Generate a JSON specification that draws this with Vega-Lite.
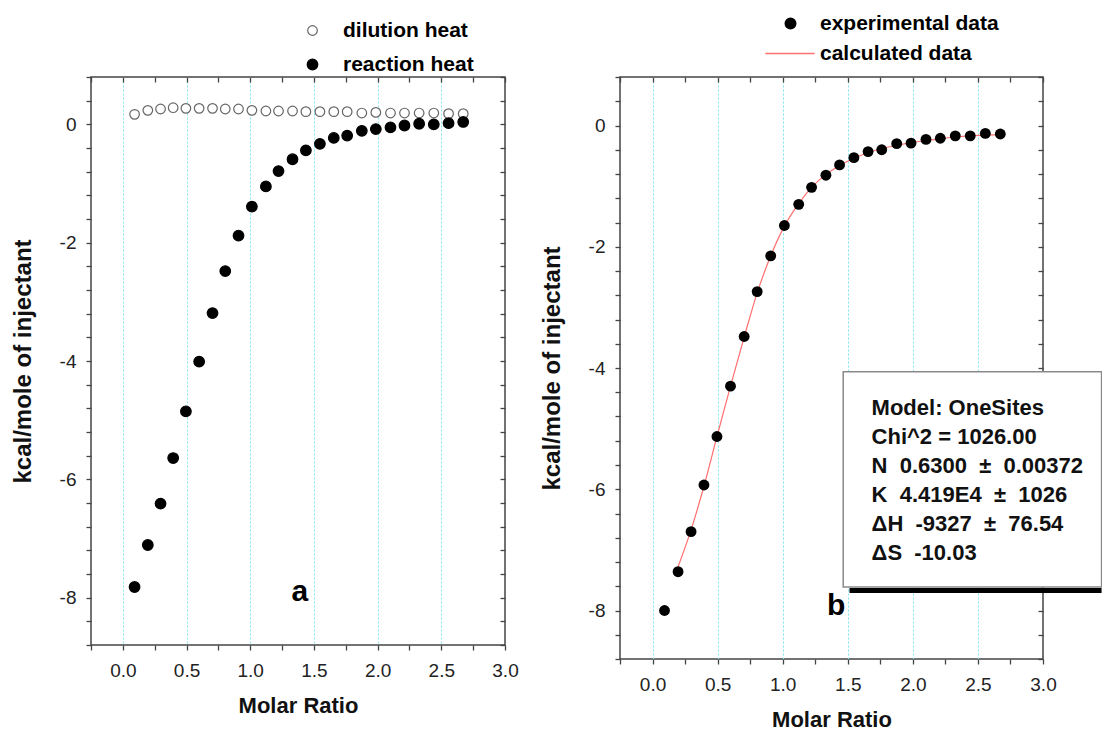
{
  "$schema": "https://vega.github.io/schema/vega-lite/v6.json",
  "background": "white",
  "padding": {"left": 10, "top": 13, "right": 0, "bottom": 0},
  "bounds": "flush",
  "spacing": 115,
  "config": {
    "font": "Liberation Sans",
    "view": {"stroke": "#444", "strokeWidth": 1.5},
    "axis": {"domain": false, "labelFont": "Liberation Sans", "labelFontSize": 19, "labelColor": "#222", "tickColor": "#444", "tickWidth": 1.3, "titleFont": "Liberation Sans", "titleFontWeight": "bold", "titleColor": "#111", "labelFlush": false, "labelOverlap": false, "labelBound": false},
    "legend": {"labelFont": "Liberation Sans", "labelLimit": 400}
  },
  "datasets": {
    "left": [
      {"x": 0.092, "y": 0.169, "series": "dilution heat"},
      {"x": 0.196, "y": 0.236, "series": "dilution heat"},
      {"x": 0.296, "y": 0.259, "series": "dilution heat"},
      {"x": 0.395, "y": 0.281, "series": "dilution heat"},
      {"x": 0.495, "y": 0.270, "series": "dilution heat"},
      {"x": 0.599, "y": 0.270, "series": "dilution heat"},
      {"x": 0.704, "y": 0.270, "series": "dilution heat"},
      {"x": 0.804, "y": 0.259, "series": "dilution heat"},
      {"x": 0.908, "y": 0.259, "series": "dilution heat"},
      {"x": 1.013, "y": 0.236, "series": "dilution heat"},
      {"x": 1.123, "y": 0.225, "series": "dilution heat"},
      {"x": 1.222, "y": 0.225, "series": "dilution heat"},
      {"x": 1.332, "y": 0.225, "series": "dilution heat"},
      {"x": 1.437, "y": 0.214, "series": "dilution heat"},
      {"x": 1.547, "y": 0.214, "series": "dilution heat"},
      {"x": 1.656, "y": 0.214, "series": "dilution heat"},
      {"x": 1.761, "y": 0.214, "series": "dilution heat"},
      {"x": 1.876, "y": 0.191, "series": "dilution heat"},
      {"x": 1.986, "y": 0.202, "series": "dilution heat"},
      {"x": 2.101, "y": 0.191, "series": "dilution heat"},
      {"x": 2.211, "y": 0.191, "series": "dilution heat"},
      {"x": 2.326, "y": 0.191, "series": "dilution heat"},
      {"x": 2.441, "y": 0.191, "series": "dilution heat"},
      {"x": 2.557, "y": 0.180, "series": "dilution heat"},
      {"x": 2.672, "y": 0.180, "series": "dilution heat"},
      {"x": 0.092, "y": -7.82, "series": "reaction heat"},
      {"x": 0.196, "y": -7.11, "series": "reaction heat"},
      {"x": 0.296, "y": -6.41, "series": "reaction heat"},
      {"x": 0.395, "y": -5.64, "series": "reaction heat"},
      {"x": 0.495, "y": -4.85, "series": "reaction heat"},
      {"x": 0.599, "y": -4.01, "series": "reaction heat"},
      {"x": 0.704, "y": -3.19, "series": "reaction heat"},
      {"x": 0.804, "y": -2.48, "series": "reaction heat"},
      {"x": 0.908, "y": -1.88, "series": "reaction heat"},
      {"x": 1.013, "y": -1.39, "series": "reaction heat"},
      {"x": 1.123, "y": -1.05, "series": "reaction heat"},
      {"x": 1.222, "y": -0.79, "series": "reaction heat"},
      {"x": 1.332, "y": -0.59, "series": "reaction heat"},
      {"x": 1.437, "y": -0.44, "series": "reaction heat"},
      {"x": 1.547, "y": -0.33, "series": "reaction heat"},
      {"x": 1.656, "y": -0.23, "series": "reaction heat"},
      {"x": 1.761, "y": -0.19, "series": "reaction heat"},
      {"x": 1.876, "y": -0.11, "series": "reaction heat"},
      {"x": 1.986, "y": -0.08, "series": "reaction heat"},
      {"x": 2.101, "y": -0.05, "series": "reaction heat"},
      {"x": 2.211, "y": -0.02, "series": "reaction heat"},
      {"x": 2.326, "y": 0.01, "series": "reaction heat"},
      {"x": 2.441, "y": 0.0, "series": "reaction heat"},
      {"x": 2.557, "y": 0.02, "series": "reaction heat"},
      {"x": 2.672, "y": 0.04, "series": "reaction heat"}
    ],
    "exp": [
      {"x": 0.092, "y": -8.00, "series": "experimental data"},
      {"x": 0.196, "y": -7.36, "series": "experimental data"},
      {"x": 0.296, "y": -6.70, "series": "experimental data"},
      {"x": 0.395, "y": -5.93, "series": "experimental data"},
      {"x": 0.495, "y": -5.13, "series": "experimental data"},
      {"x": 0.599, "y": -4.30, "series": "experimental data"},
      {"x": 0.704, "y": -3.48, "series": "experimental data"},
      {"x": 0.804, "y": -2.74, "series": "experimental data"},
      {"x": 0.908, "y": -2.15, "series": "experimental data"},
      {"x": 1.013, "y": -1.65, "series": "experimental data"},
      {"x": 1.123, "y": -1.30, "series": "experimental data"},
      {"x": 1.222, "y": -1.02, "series": "experimental data"},
      {"x": 1.332, "y": -0.82, "series": "experimental data"},
      {"x": 1.437, "y": -0.65, "series": "experimental data"},
      {"x": 1.547, "y": -0.53, "series": "experimental data"},
      {"x": 1.656, "y": -0.43, "series": "experimental data"},
      {"x": 1.761, "y": -0.40, "series": "experimental data"},
      {"x": 1.876, "y": -0.30, "series": "experimental data"},
      {"x": 1.986, "y": -0.29, "series": "experimental data"},
      {"x": 2.101, "y": -0.23, "series": "experimental data"},
      {"x": 2.211, "y": -0.21, "series": "experimental data"},
      {"x": 2.326, "y": -0.17, "series": "experimental data"},
      {"x": 2.441, "y": -0.17, "series": "experimental data"},
      {"x": 2.557, "y": -0.13, "series": "experimental data"},
      {"x": 2.672, "y": -0.14, "series": "experimental data"}
    ],
    "calc": [
      {"x": 0.196, "y": -7.28, "series": "calculated data"},
      {"x": 0.296, "y": -6.67, "series": "calculated data"},
      {"x": 0.395, "y": -5.95, "series": "calculated data"},
      {"x": 0.495, "y": -5.13, "series": "calculated data"},
      {"x": 0.599, "y": -4.30, "series": "calculated data"},
      {"x": 0.704, "y": -3.49, "series": "calculated data"},
      {"x": 0.804, "y": -2.76, "series": "calculated data"},
      {"x": 0.908, "y": -2.15, "series": "calculated data"},
      {"x": 1.013, "y": -1.66, "series": "calculated data"},
      {"x": 1.123, "y": -1.29, "series": "calculated data"},
      {"x": 1.222, "y": -1.02, "series": "calculated data"},
      {"x": 1.332, "y": -0.81, "series": "calculated data"},
      {"x": 1.437, "y": -0.66, "series": "calculated data"},
      {"x": 1.547, "y": -0.54, "series": "calculated data"},
      {"x": 1.656, "y": -0.45, "series": "calculated data"},
      {"x": 1.761, "y": -0.38, "series": "calculated data"},
      {"x": 1.876, "y": -0.33, "series": "calculated data"},
      {"x": 1.986, "y": -0.28, "series": "calculated data"},
      {"x": 2.101, "y": -0.25, "series": "calculated data"},
      {"x": 2.211, "y": -0.22, "series": "calculated data"},
      {"x": 2.326, "y": -0.19, "series": "calculated data"},
      {"x": 2.441, "y": -0.17, "series": "calculated data"},
      {"x": 2.557, "y": -0.16, "series": "calculated data"},
      {"x": 2.672, "y": -0.15, "series": "calculated data"}
    ],
    "panelLabels": [
      {"panel": "a", "x": 1.39, "y": -7.91, "label": "a"},
      {"panel": "b", "x": 1.41, "y": -7.93, "label": "b"}
    ],
    "box": [{"x": 1.465, "x2": 3.45, "y": -4.06, "y2": -7.612}],
    "shadow": [{"x": 1.513, "x2": 3.45, "y": -7.63, "y2": -7.71}],
    "fitText": [{"x": 1.683, "y": -4.774, "lines": ["Model: OneSites", "Chi^2 = 1026.00", "N\u00a0\u00a00.6300\u00a0\u00a0±\u00a0\u00a00.00372", "K\u00a0\u00a04.419E4\u00a0\u00a0±\u00a0\u00a01026", "ΔH\u00a0\u00a0-9327\u00a0\u00a0±\u00a0\u00a076.54", "ΔS\u00a0\u00a0-10.03"]}]
  },
  "hconcat": [
    {
      "width": 414,
      "height": 568,
      "layer": [
        {
          "data": {"name": "left"},
          "mark": {"type": "point", "filled": true, "opacity": 1, "strokeWidth": 1.2},
          "encoding": {
            "x": {"field": "x", "type": "quantitative", "scale": {"domain": [-0.25, 3.0], "nice": false, "zero": false},
              "axis": {"orient": "bottom", "values": [-0.25, 0, 0.25, 0.5, 0.75, 1, 1.25, 1.5, 1.75, 2, 2.25, 2.5, 2.75, 3],
                "labelExpr": "datum.value >= 0 && abs(datum.value*2 - round(datum.value*2)) < 0.001 ? format(datum.value, '.1f') : ''",
                "tickSize": 5, "labelPadding": 11, "title": "Molar Ratio", "titleFontSize": 22, "titlePadding": 15,
                "grid": true, "gridColor": {"condition": {"test": "datum.value < -0.01 || datum.value > 2.9 || abs(datum.value*2 - round(datum.value*2)) > 0.001", "value": "transparent"}, "value": "#7ee6ef"},
                "gridDash": [2, 2], "gridWidth": 1}},
            "y": {"field": "y", "type": "quantitative", "scale": {"domain": [-8.8, 0.8], "nice": false, "zero": false},
              "axis": {"orient": "left", "values": [-8.8, -8.4, -8, -7.6, -7.2, -6.8, -6.4, -6, -5.6, -5.2, -4.8, -4.4, -4, -3.6, -3.2, -2.8, -2.4, -2, -1.6, -1.2, -0.8, -0.4, 0, 0.4, 0.8],
                "labelExpr": "abs(datum.value % 2) < 0.001 ? '' + datum.value : ''",
                "tickSize": 5, "labelPadding": 10, "title": "kcal/mole of injectant", "titleFontSize": 24, "titlePadding": 24, "grid": false}},
            "fill": {"field": "series", "type": "nominal", "scale": {"domain": ["dilution heat", "reaction heat"], "range": ["white", "black"]},
              "legend": {"orient": "none", "legendX": 211, "legendY": -57, "title": null, "labelFontSize": 21, "labelFontWeight": "bold", "labelColor": "black", "labelOffset": 20, "rowPadding": 12, "symbolStrokeWidth": 1.2}},
            "stroke": {"field": "series", "type": "nominal", "scale": {"domain": ["dilution heat", "reaction heat"], "range": ["#666666", "black"]},
              "legend": {"orient": "none", "legendX": 211, "legendY": -57, "title": null, "labelFontSize": 21, "labelFontWeight": "bold", "labelColor": "black", "labelOffset": 20, "rowPadding": 12, "symbolStrokeWidth": 1.2}},
            "size": {"field": "series", "type": "nominal", "scale": {"domain": ["dilution heat", "reaction heat"], "range": [92, 112]},
              "legend": {"orient": "none", "legendX": 211, "legendY": -57, "title": null, "labelFontSize": 21, "labelFontWeight": "bold", "labelColor": "black", "labelOffset": 20, "rowPadding": 12, "symbolStrokeWidth": 1.2}}
          }
        },
        {
          "data": {"name": "panelLabels"},
          "transform": [{"filter": "datum.panel == 'a'"}],
          "mark": {"type": "text", "fontSize": 30, "fontWeight": "bold", "align": "center", "baseline": "middle", "color": "black"},
          "encoding": {
            "x": {"field": "x", "type": "quantitative", "axis": {"orient": "top", "values": [-0.25, 0, 0.25, 0.5, 0.75, 1, 1.25, 1.5, 1.75, 2, 2.25, 2.5, 2.75, 3], "labels": false, "tickSize": -5, "title": null, "grid": false}},
            "y": {"field": "y", "type": "quantitative", "axis": {"orient": "right", "values": [-8.8, -8.4, -8, -7.6, -7.2, -6.8, -6.4, -6, -5.6, -5.2, -4.8, -4.4, -4, -3.6, -3.2, -2.8, -2.4, -2, -1.6, -1.2, -0.8, -0.4, 0, 0.4, 0.8], "labels": false, "tickSize": -5, "title": null, "grid": false}},
            "text": {"field": "label", "type": "nominal"}
          }
        }
      ],
      "resolve": {"axis": {"x": "independent", "y": "independent"}}
    },
    {
      "width": 423,
      "height": 582,
      "layer": [
        {
          "data": {"name": "calc"},
          "mark": {"type": "line", "strokeWidth": 1.2, "interpolate": "monotone"},
          "encoding": {
            "x": {"field": "x", "type": "quantitative", "scale": {"domain": [-0.25, 3.0], "nice": false, "zero": false}, "axis": null},
            "y": {"field": "y", "type": "quantitative", "scale": {"domain": [-8.8, 0.8], "nice": false, "zero": false}, "axis": null},
            "color": {"field": "series", "type": "nominal", "scale": {"domain": ["experimental data", "calculated data"], "range": ["black", "#ff6f6f"]},
              "legend": {"orient": "none", "legendX": 689, "legendY": -64, "title": null, "labelFontSize": 21, "labelFontWeight": "bold", "labelColor": "black", "labelOffset": 19, "rowPadding": 8, "symbolSize": 110,
                "encode": {"symbols": {"update": {"stroke": {"signal": "datum.value === 'calculated data' ? '#ff6f6f' : 'black'"}, "fill": {"signal": "datum.value === 'calculated data' ? 'transparent' : 'black'"}, "strokeWidth": {"value": 1.5}}}}}
            }
          }
        },
        {
          "data": {"name": "exp"},
          "mark": {"type": "point", "filled": true, "opacity": 1, "size": 118},
          "encoding": {
            "x": {"field": "x", "type": "quantitative",
              "axis": {"orient": "bottom", "values": [-0.25, 0, 0.25, 0.5, 0.75, 1, 1.25, 1.5, 1.75, 2, 2.25, 2.5, 2.75, 3],
                "labelExpr": "datum.value >= 0 && abs(datum.value*2 - round(datum.value*2)) < 0.001 ? format(datum.value, '.1f') : ''",
                "tickSize": 5, "labelPadding": 11, "title": "Molar Ratio", "titleFontSize": 22, "titlePadding": 15,
                "grid": true, "gridColor": {"condition": {"test": "datum.value < -0.01 || datum.value > 2.9 || abs(datum.value*2 - round(datum.value*2)) > 0.001", "value": "transparent"}, "value": "#7ee6ef"},
                "gridDash": [2, 2], "gridWidth": 1}},
            "y": {"field": "y", "type": "quantitative",
              "axis": {"orient": "left", "values": [-8.8, -8.4, -8, -7.6, -7.2, -6.8, -6.4, -6, -5.6, -5.2, -4.8, -4.4, -4, -3.6, -3.2, -2.8, -2.4, -2, -1.6, -1.2, -0.8, -0.4, 0, 0.4, 0.8],
                "labelExpr": "abs(datum.value % 2) < 0.001 ? '' + datum.value : ''",
                "tickSize": 5, "labelPadding": 10, "title": "kcal/mole of injectant", "titleFontSize": 24, "titlePadding": 24, "grid": false}},
            "color": {"field": "series", "type": "nominal", "scale": {"domain": ["experimental data", "calculated data"], "range": ["black", "#ff6f6f"]},
              "legend": {"orient": "none", "legendX": 689, "legendY": -64, "title": null, "labelFontSize": 21, "labelFontWeight": "bold", "labelColor": "black", "labelOffset": 19, "rowPadding": 8, "symbolSize": 110,
                "encode": {"symbols": {"update": {"stroke": {"signal": "datum.value === 'calculated data' ? '#ff6f6f' : 'black'"}, "fill": {"signal": "datum.value === 'calculated data' ? 'transparent' : 'black'"}, "strokeWidth": {"value": 1.5}}}}}},
            "shape": {"field": "series", "type": "nominal", "scale": {"domain": ["experimental data", "calculated data"], "range": ["circle", "M-4.8,0H4.6"]},
              "legend": {"orient": "none", "legendX": 689, "legendY": -64, "title": null, "labelFontSize": 21, "labelFontWeight": "bold", "labelColor": "black", "labelOffset": 19, "rowPadding": 8, "symbolSize": 110,
                "encode": {"symbols": {"update": {"stroke": {"signal": "datum.value === 'calculated data' ? '#ff6f6f' : 'black'"}, "fill": {"signal": "datum.value === 'calculated data' ? 'transparent' : 'black'"}, "strokeWidth": {"value": 1.5}}}}}}
          }
        },
        {
          "data": {"name": "panelLabels"},
          "transform": [{"filter": "datum.panel == 'b'"}],
          "mark": {"type": "text", "fontSize": 30, "fontWeight": "bold", "align": "center", "baseline": "middle", "color": "black"},
          "encoding": {
            "x": {"field": "x", "type": "quantitative", "axis": {"orient": "top", "values": [-0.25, 0, 0.25, 0.5, 0.75, 1, 1.25, 1.5, 1.75, 2, 2.25, 2.5, 2.75, 3], "labels": false, "tickSize": -5, "title": null, "grid": false}},
            "y": {"field": "y", "type": "quantitative", "axis": {"orient": "right", "values": [-8.8, -8.4, -8, -7.6, -7.2, -6.8, -6.4, -6, -5.6, -5.2, -4.8, -4.4, -4, -3.6, -3.2, -2.8, -2.4, -2, -1.6, -1.2, -0.8, -0.4, 0, 0.4, 0.8], "labels": false, "tickSize": -5, "title": null, "grid": false}},
            "text": {"field": "label", "type": "nominal"}
          }
        },
        {
          "data": {"name": "shadow"},
          "mark": {"type": "rect", "color": "black", "opacity": 1},
          "encoding": {
            "x": {"field": "x", "type": "quantitative", "axis": null},
            "x2": {"field": "x2"},
            "y": {"field": "y", "type": "quantitative", "axis": null},
            "y2": {"field": "y2"}
          }
        },
        {
          "data": {"name": "box"},
          "mark": {"type": "rect", "fill": "white", "stroke": "#8a8a8a", "strokeWidth": 1.5, "opacity": 1},
          "encoding": {
            "x": {"field": "x", "type": "quantitative", "axis": null},
            "x2": {"field": "x2"},
            "y": {"field": "y", "type": "quantitative", "axis": null},
            "y2": {"field": "y2"}
          }
        },
        {
          "data": {"name": "fitText"},
          "mark": {"type": "text", "fontSize": 22, "fontWeight": "bold", "align": "left", "baseline": "alphabetic", "lineHeight": 29, "color": "#111"},
          "encoding": {
            "x": {"field": "x", "type": "quantitative", "axis": null},
            "y": {"field": "y", "type": "quantitative", "axis": null},
            "text": {"field": "lines", "type": "nominal"}
          }
        }
      ],
      "resolve": {"axis": {"x": "independent", "y": "independent"}}
    }
  ]
}
